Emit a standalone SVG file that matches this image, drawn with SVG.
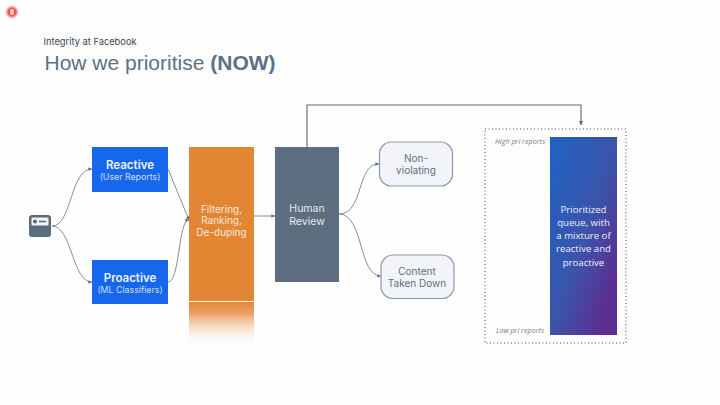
<svg xmlns="http://www.w3.org/2000/svg" width="720" height="405" viewBox="0 0 720 405">
<style>
.m{font-family:"Inter","Liberation Sans",sans-serif}
.w{fill:#f4e9df;font-size:10px;text-anchor:middle}
.c{fill:none;stroke:#78828c;stroke-width:.9}
.t{fill:#5d6f80;font-size:10px;text-anchor:middle}
.n{fill:#f3f4f9;stroke:#8a99a9;stroke-width:1.2}
</style>
<defs>
<marker id="a" markerWidth="5" markerHeight="5" refX="4" refY="2" orient="auto"><path d="M0 0L4 2L0 4Z" fill="#5f6a75"/></marker>
<linearGradient id="o" x1="0" y1="0" x2="0" y2="1"><stop offset="0" stop-color="#e38634"/><stop offset=".25" stop-color="#e9a266"/><stop offset="1" stop-color="#fff" stop-opacity="0"/></linearGradient>
<linearGradient id="q" x1="0" y1="0" x2="1" y2="1"><stop offset="0" stop-color="#1e62c4"/><stop offset=".5" stop-color="#3a55ab"/><stop offset=".85" stop-color="#5c2f91"/><stop offset="1" stop-color="#5a2d90"/></linearGradient>
<radialGradient id="r"><stop offset=".5" stop-color="#e8503f"/><stop offset="1" stop-color="#ef5a48" stop-opacity="0"/></radialGradient>
</defs>
<rect width="720" height="405" fill="#fefefe"/>
<g id="rec"><circle cx="12" cy="12" r="7" fill="url(#r)"/><rect x="10" y="9" width="4" height="6" rx="1.500" fill="#f6c7bd"/></g>
<text class="m" x="43.500" y="45" font-size="9.300" fill="#3f4650">Integrity at Facebook</text>
<text x="44.500" y="70" font-family="Liberation Sans,sans-serif" font-size="21" fill="#5d7085">How we prioritise <tspan font-weight="700">(NOW)</tspan></text>
<g id="connectors">
<path class="c" d="M52 226C72 226 70 169 92 169" marker-end="url(#a)"/>
<path class="c" d="M52 226C72 226 72 282 92 282" marker-end="url(#a)"/>
<path class="c" d="M168 169L189 220" marker-end="url(#a)"/>
<path class="c" d="M168 282C180 282 178 220 189 220" marker-end="url(#a)"/>
<path class="c" d="M254 216H275" marker-end="url(#a)"/>
<path class="c" d="M339 214C364 214 356 164 379 164" marker-end="url(#a)"/>
<path class="c" d="M339 214C364 214 358 276 381 276" marker-end="url(#a)"/>
<path d="M307 147V105H581V125" fill="none" stroke="#5f6770" stroke-width="1.100" marker-end="url(#a)"/>
</g>
<g id="source"><rect x="29" y="215" width="22" height="22" rx="3" fill="#5a6b7c"/><rect x="31.500" y="217.500" width="17" height="8" rx="1" fill="#f4f5f7"/><circle cx="35" cy="221.500" r="2" fill="#5a6b7c"/><rect x="39" y="220.700" width="7" height="1.600" fill="#5a6b7c"/></g>
<g id="reactive"><rect x="92" y="147" width="76" height="45" fill="#1767ec"/><text class="m" x="130" y="168.500" font-size="11.500" font-weight="600" fill="#eef3fd" text-anchor="middle">Reactive</text><text class="m" x="130" y="180" font-size="8.800" fill="#cfdcf7" text-anchor="middle">(User Reports)</text></g>
<g id="proactive"><rect x="92" y="260" width="76" height="44" fill="#1767ec"/><text class="m" x="130" y="281.500" font-size="11.500" font-weight="600" fill="#eef3fd" text-anchor="middle">Proactive</text><text class="m" x="130" y="293" font-size="8.800" fill="#cfdcf7" text-anchor="middle">(ML Classifiers)</text></g>
<g id="filtering"><rect x="189" y="147" width="65" height="154" fill="#e38634"/><rect x="189" y="302" width="65" height="46" fill="url(#o)"/><text class="m w" x="221.500" y="212.500">Filtering,</text><text class="m w" x="221.500" y="224">Ranking,</text><text class="m w" x="221.500" y="235.500">De-duping</text></g>
<g id="review"><rect x="275" y="147" width="64" height="135" fill="#5c6e7f"/><text class="m" x="307" y="212" font-size="10.500" fill="#e8ebee" text-anchor="middle">Human</text><text class="m" x="307" y="225" font-size="10.500" fill="#e8ebee" text-anchor="middle">Review</text></g>
<g id="nonviolating"><rect class="n" x="379.500" y="142" width="73" height="44" rx="12"/><text class="m t" x="416" y="162">Non-</text><text class="m t" x="416" y="174">violating</text></g>
<g id="takendown"><rect class="n" x="381" y="255" width="73" height="43.500" rx="12"/><text class="m t" x="417" y="275">Content</text><text class="m t" x="417" y="287">Taken Down</text></g>
<g id="queue"><rect x="485" y="129" width="141" height="214" fill="none" stroke="#444" stroke-width="1" stroke-dasharray="1 2.500"/><rect x="550" y="137" width="67" height="198" fill="url(#q)"/>
<text x="520" y="144" font-family="Open Sans,sans-serif" font-style="italic" font-size="7.200" fill="#7d7d7d" text-anchor="middle">High pri reports</text>
<text x="520" y="333" font-family="Open Sans,sans-serif" font-style="italic" font-size="7.200" fill="#7d7d7d" text-anchor="middle">Low pri reports</text>
<g font-family="Open Sans,sans-serif" font-size="9.600" fill="#eef0f8" text-anchor="middle"><text x="583.500" y="213">Prioritized</text><text x="583.500" y="226">queue, with</text><text x="583.500" y="239">a mixture of</text><text x="583.500" y="252">reactive and</text><text x="583.500" y="266">proactive</text></g></g>
</svg>
